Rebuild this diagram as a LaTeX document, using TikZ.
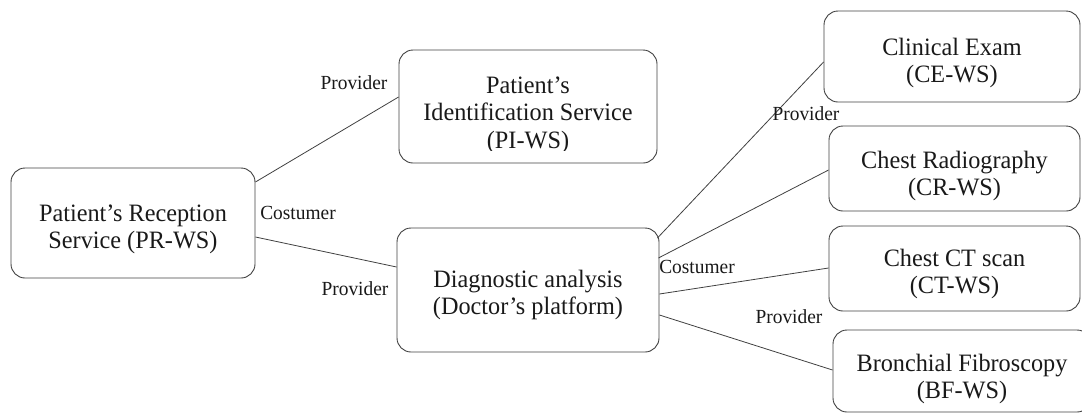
\documentclass[tikz,border=0pt]{standalone}
\usepackage{fontspec}
\setmainfont{Liberation Serif}
\newfontfamily\servicefont{Liberation Serif}[FakeStretch=0.97]
% centred lines, baseline on the first one
\newcommand\boxlines[1]{\begin{tabular}[t]{@{}c@{}}#1\end{tabular}}
\begin{document}
\begin{tikzpicture}[x=1pt,y=-1pt,
  box/.style={draw=black!75, rounded corners=14pt, line width=0.9pt,
    text=black!90, inner sep=0pt, text height=0pt, text depth=#1,
    font=\servicefont\fontsize{25}{27.5}\selectfont},
  link/.style={draw=black!75, line width=0.8pt},
  role/.style={text=black!90, inner sep=0pt,
    font=\servicefont\fontsize{20}{22}\selectfont}]
\useasboundingbox (0,0) rectangle (1082,413);

% service boxes
\node[box=4pt, minimum width=244pt, minimum height=110pt] (PR) at (133,223)
  {\boxlines{Patient’s Reception\\Service (PR-WS)}};
\node[box=27pt, minimum width=258pt, minimum height=113pt] (PI) at (528,106.5)
  {\boxlines{Patient’s\\Identification Service\\(PI-WS)}};
% the text frame of this box cuts off the foot of its last line
\fill[white] ([xshift=12pt,yshift=12.5pt]PI.south west)
  rectangle ([xshift=-12pt,yshift=1.5pt]PI.south east);
\node[box=6pt, minimum width=262pt, minimum height=124pt] (DA) at (528,290)
  {\boxlines{Diagnostic analysis\\(Doctor’s platform)}};
\node[box=3pt, minimum width=256pt, minimum height=91pt] (CE) at (952,56.5)
  {\boxlines{Clinical Exam\\(CE-WS)}};
\node[box=1pt, minimum width=251pt, minimum height=85pt] (CR) at (954.5,168.5)
  {\boxlines{Chest Radiography\\(CR-WS)}};
\node[box=5pt, minimum width=251pt, minimum height=85pt] (CT) at (954.5,268.5)
  {\boxlines{Chest CT scan\\(CT-WS)}};
\node[box=0pt, minimum width=258pt, minimum height=82pt] (BF) at (962,371)
  {\boxlines{Bronchial Fibroscopy\\(BF-WS)}};

% connections
\draw[link] ([yshift=41pt]PR.east) -- ([yshift=9.5pt]PI.west);
\draw[link] ([yshift=-14pt]PR.east) -- ([yshift=23pt]DA.west);
\draw[link] ([xshift=-2pt,yshift=52pt]DA.east) -- ([yshift=-5.5pt]CE.west);
\draw[link] ([xshift=-1pt,yshift=32pt]DA.east) -- ([yshift=-1.5pt]CR.west);
\draw[link] ([yshift=-4pt]DA.east) -- ([yshift=0.5pt]CT.west);
\draw[link] ([yshift=-25pt]DA.east) -- ([yshift=1pt]BF.west);

% roles
\node[role] (r1) at (354,83) {Provider};
\node[role] (r2) at (298,213) {Costumer};
\node[role] (r3) at (355,289) {Provider};
\node[role] (r4) at (806,114) {Provider};
\node[role] (r5) at (697,267) {Costumer};
\node[role] (r6) at (789,317) {Provider};
\end{tikzpicture}
\end{document}
